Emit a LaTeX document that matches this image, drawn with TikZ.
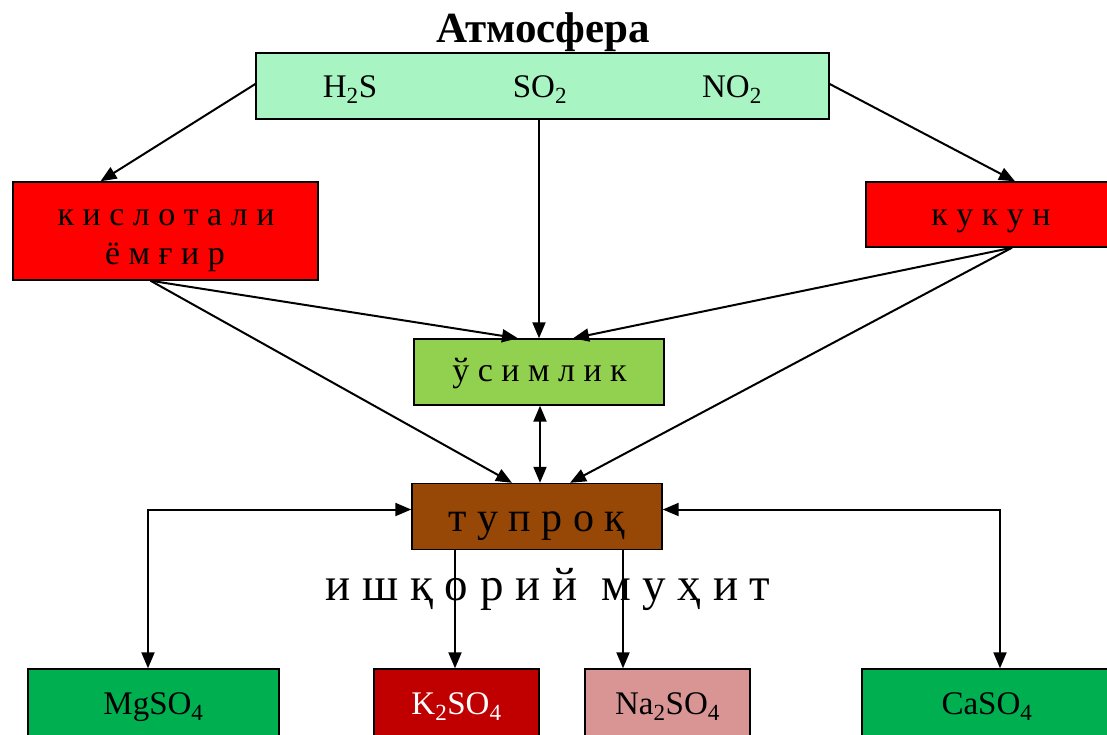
\documentclass[tikz,border=0pt]{standalone}
\usepackage{fontspec}
\setmainfont{Liberation Serif}
\usetikzlibrary{arrows.meta}

\definecolor{atmfill}{RGB}{169,244,195}
\definecolor{redbox}{RGB}{255,0,0}
\definecolor{plantfill}{RGB}{146,208,80}
\definecolor{soilfill}{RGB}{151,71,6}
\definecolor{saltgreen}{RGB}{0,176,80}
\definecolor{saltred}{RGB}{192,0,0}
\definecolor{saltpink}{RGB}{217,149,148}

\newcommand\setgap[1]{\spaceskip #1\relax}

\tikzset{
  box/.style={draw, line width=1.4pt, inner sep=0pt},
  lbl/.style={anchor=base, inner sep=0pt},
  link/.style={line width=2pt, -{Triangle[length=16pt,width=13pt]}},
  twolink/.style={line width=2pt, {Triangle[length=16pt,width=13pt]}-{Triangle[length=16pt,width=13pt]}},
  chem/.style={font=\fontsize{33}{38}\selectfont},
  word/.style={font=\fontsize{34}{40}\selectfont},
}

\begin{document}
\begin{tikzpicture}[x=1pt,y=1pt,yscale=-1,xscale=1]
\useasboundingbox (0,0) rectangle (1107,734);
\clip (0,0) rectangle (1107,734);

% Title
\node [lbl, font=\fontsize{43}{48}\selectfont\bfseries] (title) at (543,42) {Атмосфера};

%Shape: Rectangle
\node [box, fill=atmfill, minimum width=573pt, minimum height=66pt] (atm) at (542.5,86) {};
% Text Node
\node [lbl, chem] (hs) at (350,97) {H\textsubscript{2}S};
% Text Node
\node [lbl, chem] (so) at (540,97) {SO\textsubscript{2}};
% Text Node
\node [lbl, chem] (no) at (732,97) {NO\textsubscript{2}};

%Shape: Rectangle
\node [box, fill=redbox, minimum width=305pt, minimum height=98pt] (rain) at (165.5,231) {};
% Text Node
\node [lbl, word] (rain1) at (166,225) {к и с л о т а л и};
% Text Node
\node [lbl, word] (rain2) at (165,264) {ё м ғ и р};

%Shape: Rectangle
\node [box, fill=redbox, minimum width=254pt, minimum height=65pt] (dust) at (993,214.5) {};
% Text Node
\node [lbl, word] (dustlbl) at (991,225) {к у к у н};

%Shape: Rectangle
\node [box, fill=plantfill, minimum width=250pt, minimum height=66pt] (plant) at (539,372) {};
% Text Node
\node [lbl, word] (plantlbl) at (539.5,381) {ў с и м л и к};

%Shape: Rectangle
\node [box, fill=soilfill, minimum width=250pt, minimum height=66pt] (soil) at (537,516.5) {};
% Text Node
\node [lbl, font=\fontsize{42}{46}\selectfont] (soillbl) at (537,531) {т у п р о қ};

% Text Node
\node [lbl, font=\fontsize{47}{52}\selectfont] (alk) at (548,600) {и ш қ о р и й\ \ м у ҳ и т};

%Shape: Rectangle
\node [box, fill=saltgreen, minimum width=251pt, minimum height=74pt] (mg) at (153.5,706) {};
\node [lbl, chem] (mglbl) at (153.5,714) {MgSO\textsubscript{4}};
%Shape: Rectangle
\node [box, fill=saltred, minimum width=165pt, minimum height=74pt] (k) at (456.5,706) {};
\node [lbl, chem, text=white] (klbl) at (456.5,714) {K\textsubscript{2}SO\textsubscript{4}};
%Shape: Rectangle
\node [box, fill=saltpink, minimum width=165pt, minimum height=74pt] (na) at (667.5,706) {};
\node [lbl, chem] (nalbl) at (667.5,714) {Na\textsubscript{2}SO\textsubscript{4}};
%Shape: Rectangle
\node [box, fill=saltgreen, minimum width=250pt, minimum height=74pt] (ca) at (987,706) {};
\node [lbl, chem] (calbl) at (987,714) {CaSO\textsubscript{4}};

%Straight Lines
\draw [link] ([yshift=-2pt]atm.west) -- ([xshift=-65pt]rain.north);
\draw [link] ([yshift=-2pt]atm.east) -- ([xshift=22pt]dust.north);
\draw [link] ([xshift=-3.5pt]atm.south) -- ([xshift=0pt]plant.north);

%Straight Lines
\draw [link] ([xshift=-15pt]rain.south) -- ([xshift=-21pt]plant.north);
\draw [link] ([xshift=-15pt]rain.south) -- ([xshift=-25pt]soil.north);
\draw [link] ([xshift=19pt]dust.south) -- ([xshift=34pt]plant.north);
\draw [link] ([xshift=19pt]dust.south) -- ([xshift=33pt]soil.north);

%Straight Lines
\draw [twolink] ([xshift=1pt]plant.south) -- ([xshift=3pt]soil.north);

%Elbow Lines
\draw [twolink] ([yshift=-7pt]soil.west) -| (mg.north -| 148,0);
\draw [twolink] ([yshift=-7pt]soil.east) -| (ca.north -| 1000,0);

%Straight Lines
\draw [link] (soil.south -| 455,0) -- (k.north -| 455,0);
\draw [link] (soil.south -| 623,0) -- (na.north -| 623,0);

\end{tikzpicture}
\end{document}
